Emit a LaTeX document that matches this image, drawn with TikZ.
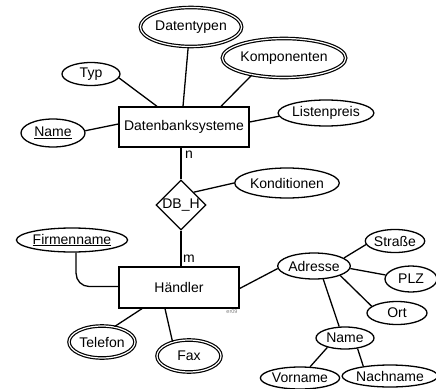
\documentclass[tikz,border=0pt]{standalone}
\usepackage{fontspec}
\setmainfont{Liberation Sans}
\usetikzlibrary{shapes.geometric}
\begin{document}
\begin{tikzpicture}[x=1pt,y=-1pt,
  every node/.style={font=\fontsize{14}{16}\selectfont},
  ln/.style={line width=1.3pt},
  attr/.style={ellipse,draw,line width=1.3pt,inner sep=0pt},
  multi/.style={ellipse,draw,line width=1.2pt,double,double distance=1.2pt,inner sep=0pt},
  ent/.style={rectangle,draw,line width=1.3pt,inner sep=0pt},
  rel/.style={diamond,draw,line width=1.3pt,inner sep=0pt,minimum width=50pt,minimum height=50pt}]
\useasboundingbox (0,0) rectangle (436,388);
% entities
\node[ent,minimum width=130pt,minimum height=40pt] (dbs) at (184,127) {Datenbanksysteme};
\node[ent,minimum width=120pt,minimum height=41pt] (hae) at (179,287.5) {Händler};
% relationship
\node[rel,label={center:DB\_H}] (dbh) at (181,205) {};
% attributes
\node[attr,minimum width=58pt,minimum height=23pt] (typ) at (91,74) {Typ};
\node[multi,minimum width=86pt,minimum height=39pt] (dat) at (191,27) {Datentypen};
\node[multi,minimum width=104pt,minimum height=39pt] (komp) at (284,58) {Komponenten};
\node[attr,minimum width=84pt,minimum height=26pt] (list) at (326,113) {Listenpreis};
\node[attr,minimum width=64pt,minimum height=28pt] (name) at (53,133) {\underline{Name}};
\node[attr,minimum width=88pt,minimum height=30pt] (kond) at (287,183) {Konditionen};
\node[attr,minimum width=94pt,minimum height=24pt] (firm) at (72,240) {\underline{Firmenname}};
\node[multi,minimum width=66pt,minimum height=32pt] (tel) at (102,342) {Telefon};
\node[multi,minimum width=64pt,minimum height=32pt] (fax) at (189,356) {Fax};
\node[attr,minimum width=62pt,minimum height=26pt] (adr) at (314,266) {Adresse};
\node[attr,minimum width=58pt,minimum height=23pt] (str) at (395,241) {Straße};
\node[attr,minimum width=52pt,minimum height=26pt] (plz) at (411,279) {PLZ};
\node[attr,minimum width=60pt,minimum height=23pt] (ort) at (397,313) {Ort};
\node[attr,minimum width=58pt,minimum height=22pt] (nam2) at (345,338) {Name};
\node[attr,minimum width=64pt,minimum height=22pt] (vor) at (300,378) {Vorname};
\node[attr,minimum width=76pt,minimum height=22pt] (nach) at (390,376) {Nachname};
% labels
\node (n) at (189,155) {n};
\node (m) at (189,259) {m};
\node[font=\fontsize{5.5}{6}\selectfont,text=gray] (er) at (232,312) {er09};
% connectors
\draw[ln] (typ.-8) -- ([xshift=-27pt]dbs.north);
\draw[ln] (dat.-98) -- ([xshift=-1pt]dbs.north);
\draw[ln] (komp.208) -- ([xshift=37pt]dbs.north);
\draw[ln] (list.184) -- ([yshift=5pt]dbs.east);
\draw[ln] (name.4) -- ([yshift=3pt]dbs.west);
\draw[ln] (dbh.north) -- (dbh.north |- dbs.south);
\draw[ln] (dbh.south) -- (dbh.south |- hae.north);
\draw[ln] (dbh.north east) -- (kond.180);
\draw[ln,rounded corners=13pt] (firm.-72) |- ([yshift=1pt]hae.west);
\draw[ln] ([xshift=-37pt]hae.south) -- (tel.51);
\draw[ln] ([xshift=-14pt]hae.south) -- (fax.139);
\draw[ln] ([yshift=-1pt]hae.east) -- (adr.184);
\draw[ln] (adr.15) -- (str.187);
\draw[ln] (adr.-4) -- (plz.171);
\draw[ln] (adr.-20) -- (ort.165);
\draw[ln] (adr.-55) -- (nam2.117);
\draw[ln] (nam2.208) -- (vor.48);
\draw[ln] (nam2.-40) -- (nach.160);
\end{tikzpicture}
\end{document}
